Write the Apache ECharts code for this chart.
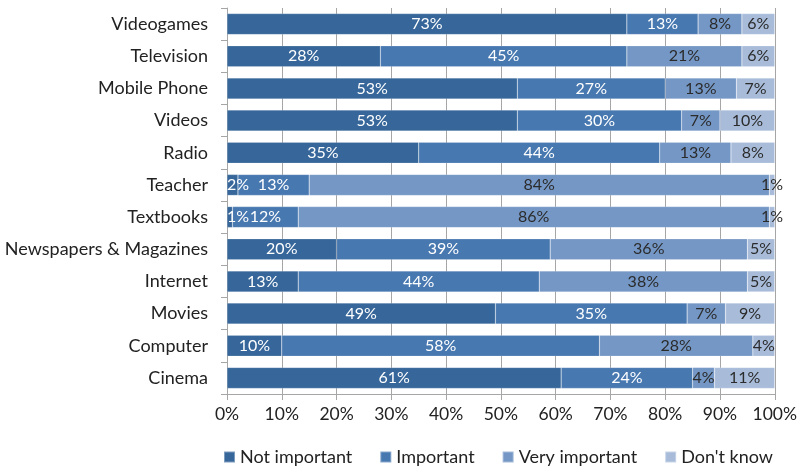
<!DOCTYPE html>
<html>
<head>
<meta charset="utf-8">
<script src="https://cdn.jsdelivr.net/npm/echarts@6/dist/echarts.min.js"></script>
<style>
  html, body { margin: 0; padding: 0; background: #fff; }
  #chart { width: 800px; height: 467px; }
</style>
</head>
<body>
<div id="chart"></div>
<script>
var categories = ['Videogames', 'Television', 'Mobile Phone', 'Videos', 'Radio', 'Teacher',
    'Textbooks', 'Newspapers & Magazines', 'Internet', 'Movies', 'Computer', 'Cinema'];

var notImportant  = [73, 28, 53, 53, 35, 2, 1, 20, 13, 49, 10, 61];
var important     = [13, 45, 27, 30, 44, 13, 12, 39, 44, 35, 58, 24];
var veryImportant = [8, 21, 13, 7, 13, 84, 86, 36, 38, 7, 28, 4];
var dontKnow      = [6, 6, 7, 10, 8, 1, 1, 5, 5, 9, 4, 11];

var seriesNames = ['Not important', 'Important', 'Very important', "Don't know"];
var colors = ['#37679a', '#4878b0', '#7497c5', '#a8bcda'];
var labelColors = ['#ffffff', '#ffffff', '#2b2b2b', '#2b2b2b'];

var chart = echarts.init(document.getElementById('chart'));

function makeSeries(name, data, i) {
    // tiny first segments get their label pinned to the bar start
    var items = data.map(function (v) {
        if (i === 0 && v < 4) {
            return { value: v, label: { position: 'insideLeft', distance: 0 } };
        }
        return v;
    });
    return {
        name: name,
        type: 'bar',
        stack: 'total',
        barWidth: 21,
        data: items,
        itemStyle: {
            color: colors[i],
            borderColor: 'rgba(255,255,255,0.35)',
            borderWidth: 0.5
        },
        label: {
            show: true,
            position: 'inside',
            formatter: '{c}%',
            color: labelColors[i],
            fontSize: 16,
            fontFamily: 'Lato'
        }
    };
}

var option = {
    animation: false,
    textStyle: { fontFamily: 'Lato' },
    grid: {
        left: 227,
        right: 24,
        top: 8,
        bottom: 73
    },
    legend: {
        data: seriesNames,
        top: 443,
        left: 218,
        itemWidth: 11,
        itemHeight: 11,
        itemGap: 27,
        icon: 'rect',
        textStyle: { fontSize: 18, color: '#222', fontFamily: 'Lato' }
    },
    xAxis: {
        type: 'value',
        min: 0,
        max: 100,
        interval: 10,
        axisLine: { show: true, lineStyle: { color: '#a6a6a6' } },
        axisTick: { show: true, length: 6, lineStyle: { color: '#a6a6a6' } },
        splitLine: { show: true, lineStyle: { color: '#a6a6a6' } },
        axisLabel: {
            formatter: '{value}%',
            fontSize: 17.5,
            color: '#222',
            margin: 11
        }
    },
    yAxis: {
        type: 'category',
        data: categories,
        inverse: true,
        axisLine: { show: true, lineStyle: { color: '#a6a6a6' } },
        axisTick: { show: true, length: 6, lineStyle: { color: '#a6a6a6' } },
        axisLabel: { fontSize: 18, color: '#222', margin: 19 }
    },
    series: [
        makeSeries(seriesNames[0], notImportant, 0),
        makeSeries(seriesNames[1], important, 1),
        makeSeries(seriesNames[2], veryImportant, 2),
        makeSeries(seriesNames[3], dontKnow, 3)
    ]
};

chart.setOption(option);
</script>
</body>
</html>
